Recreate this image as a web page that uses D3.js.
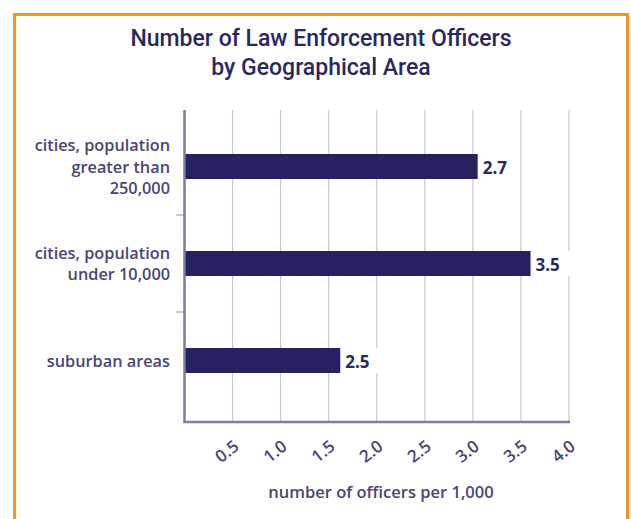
<!DOCTYPE html>
<html><head><meta charset="utf-8">
<script src="https://cdn.jsdelivr.net/npm/d3@7"></script>
<style>body{margin:0;background:#fff}svg{display:block}</style>
</head><body>
<script>
const titleLines = ["Number of Law Enforcement Officers", "by Geographical Area"];
const categories = [
  ["cities, population", "greater than", "250,000"],
  ["cities, population", "under 10,000"],
  ["suburban areas"]
];
const barValues = [3.05, 3.6, 1.62];
const valueLabels = ["2.7", "3.5", "2.5"];
const tickValues = [0.5, 1.0, 1.5, 2.0, 2.5, 3.0, 3.5, 4.0];
const xTitle = "number of officers per 1,000";

const W = 631, H = 519;
const svg = d3.select("body").append("svg").attr("width", W).attr("height", H);
svg.append("rect").attr("x", 14.5).attr("y", 14.5).attr("width", 613).attr("height", 520)
  .attr("fill", "none").attr("stroke", "#f7941d").attr("stroke-width", 3);

const tf = "'Roboto', sans-serif";
const lf = "'Open Sans', 'Liberation Sans', sans-serif";
const navy = "#26225f", txt = "#4b4673";

svg.selectAll("text.title").data(titleLines).join("text").attr("class","title")
  .attr("x", 321).attr("y", (d,i) => 46 + i*29).attr("text-anchor","middle")
  .attr("font-family", tf).attr("font-weight", 500).attr("font-size", 23)
  .attr("fill", "#2b2860").text(d => d);

const x0 = 184.5, x1 = 569, yTop = 110, yBot = 422;
const x = d3.scaleLinear().domain([0, 4]).range([x0, x1]);
const y = d3.scaleBand().domain(d3.range(categories.length)).range([118, 409]).paddingInner(0.74).paddingOuter(0.37);

svg.append("g").selectAll("line").data(tickValues).join("line")
  .attr("x1", d => x(d)).attr("x2", d => x(d)).attr("y1", yTop).attr("y2", yBot)
  .attr("stroke", "#c8c6db").attr("stroke-width", 1.2);

const step = y.step();
svg.append("g").selectAll("line").data([1, 2]).join("line")
  .attr("x1", 176).attr("x2", x0).attr("y1", d => y(d) - y.paddingInner()*step/2).attr("y2", d => y(d) - y.paddingInner()*step/2)
  .attr("stroke", "#aaa7c6").attr("stroke-width", 1.2);

const bw = 25;
const yc = i => y(i) + y.bandwidth()/2;
svg.append("g").selectAll("rect.lblbg").data(barValues).join("rect")
  .attr("x", d => x(d)).attr("y", (d,i) => yc(i) - bw/2).attr("width", 42).attr("height", bw).attr("fill", "#fff");
svg.append("g").selectAll("rect.bar").data(barValues).join("rect")
  .attr("x", x(0)).attr("y", (d,i) => yc(i) - bw/2).attr("width", d => x(d) - x(0)).attr("height", bw).attr("fill", navy);
svg.append("g").selectAll("text").data(barValues).join("text")
  .attr("x", d => x(d) + 5).attr("y", (d,i) => yc(i) + 7)
  .attr("font-family", lf).attr("font-weight", 700).attr("font-size", 17).attr("fill", "#2b2860")
  .text((d,i) => valueLabels[i]);

svg.append("line").attr("x1", x0).attr("x2", x0).attr("y1", yTop).attr("y2", yBot+1).attr("stroke", "#7f7aa6").attr("stroke-width", 2.5);
svg.append("line").attr("x1", x0-1).attr("x2", x1+1).attr("y1", yBot).attr("y2", yBot).attr("stroke", "#7f7aa6").attr("stroke-width", 2.5);

categories.forEach((lines, i) => {
  const n = lines.length;
  const c = yc(i);
  const first = c - (n-1)*21.5/2 + 6;
  const t = svg.append("text").attr("text-anchor","end").attr("font-family", lf).attr("font-weight", 600)
    .attr("font-size", 16.3).attr("fill", txt);
  lines.forEach((l, j) => t.append("tspan").attr("x", 170).attr("y", first + j*21.5).text(l));
});

svg.append("g").selectAll("text").data(tickValues).join("text")
  .attr("transform", d => `translate(${x(d) - 2},${456}) rotate(-38)`)
  .attr("text-anchor","middle").attr("font-family", lf).attr("font-weight", 600).attr("font-size", 17)
  .attr("fill", txt).text(d => d.toFixed(1));

svg.append("text").attr("x", 381).attr("y", 498).attr("text-anchor","middle")
  .attr("font-family", lf).attr("font-weight", 600).attr("font-size", 16.5).attr("fill", txt).text(xTitle);
</script>
</body></html>
